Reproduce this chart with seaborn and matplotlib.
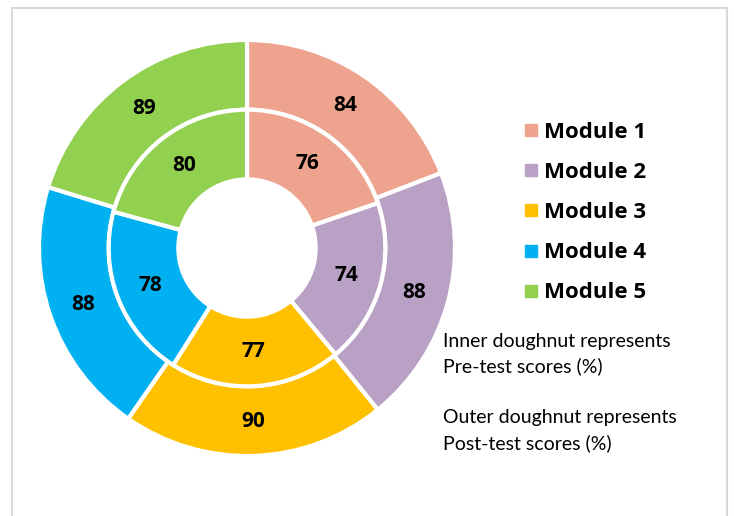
import matplotlib
matplotlib.use("Agg")
import matplotlib.pyplot as plt
from matplotlib.lines import Line2D
from matplotlib.patches import Rectangle
import seaborn as sns

modules = ["Module 1", "Module 2", "Module 3", "Module 4", "Module 5"]
pre_scores = [76, 74, 77, 78, 80]
post_scores = [84, 88, 90, 88, 89]
colors = ["#EDA38E", "#B9A0C5", "#FFC000", "#00B0F0", "#92D050"]

sns.set_theme(style="white")
plt.rcParams['font.family'] = ['Lato', 'DejaVu Sans']
plt.rcParams['text.color'] = 'black'
bold_font = ['Open Sans', 'DejaVu Sans']

W, H = 734, 516
fig = plt.figure(figsize=(W / 100, H / 100), dpi=100)

# chart frame
fig.patches.append(Rectangle((12 / W, -0.01), (727 - 12) / W, (H - 8) / H + 0.01,
                             transform=fig.transFigure, fill=False,
                             edgecolor="#D9D9D9", linewidth=1.5))

cx, cy, r = 247, 248, 208
ax = fig.add_axes([(cx - r) / W, (H - cy - r) / H, 2 * r / W, 2 * r / H])

ring = 0.335
wedge_style = dict(edgecolor="white", linewidth=3)
label_kw = dict(fontsize=15, fontweight="bold", color="black", family=bold_font)
ax.pie(post_scores, radius=1, colors=colors, startangle=90, counterclock=False,
       wedgeprops=dict(width=ring, **wedge_style),
       labels=post_scores, labeldistance=1 - ring / 2, textprops=label_kw)
ax.pie(pre_scores, radius=1 - ring, colors=colors, startangle=90, counterclock=False,
       wedgeprops=dict(width=ring, **wedge_style),
       labels=pre_scores, labeldistance=(1 - 1.5 * ring) / (1 - ring),
       textprops=label_kw)
for t in ax.texts:
    t.set_ha("center")
    t.set_va("center")
ax.set_xlim(-1, 1)
ax.set_ylim(-1, 1)
ax.set_axis_off()

handles = [Line2D([], [], marker="s", linestyle="", markersize=9,
                  markerfacecolor=c, markeredgecolor=c) for c in colors]
leg = fig.legend(handles, modules, loc="upper left",
                 bbox_to_anchor=(502 / W, 1 - 102 / H), frameon=False,
                 handletextpad=0.15, handlelength=0.85, labelspacing=0.86,
                 prop=dict(size=16, weight="bold", family=bold_font))

note_kw = dict(fontsize=14, ha="left", va="center", color="black")
fig.text(443 / W, 1 - 341 / H, "Inner doughnut represents", **note_kw)
fig.text(443 / W, 1 - 366 / H, "Pre-test scores (%)", **note_kw)
fig.text(443 / W, 1 - 418 / H, "Outer doughnut represents", **note_kw)
fig.text(443 / W, 1 - 443 / H, "Post-test scores (%)", **note_kw)

fig.savefig("out.png", dpi=100)
